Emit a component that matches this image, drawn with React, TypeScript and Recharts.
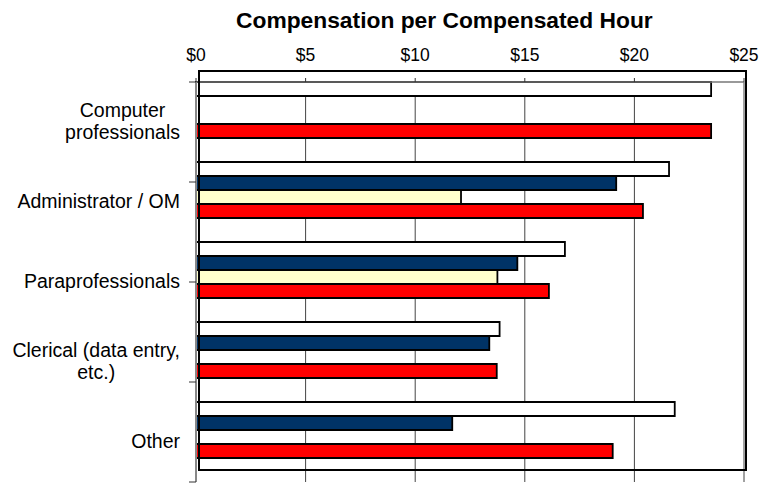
import React from 'react';
import { BarChart, Bar, XAxis, YAxis, CartesianGrid } from 'recharts';

const categories = ['Computer professionals', 'Administrator / OM', 'Paraprofessionals', 'Clerical (data entry, etc.)', 'Other'];
const categoryLines: string[][] = [
  ['Computer', 'professionals'],
  ['Administrator / OM'],
  ['Paraprofessionals'],
  ['Clerical (data entry,', 'etc.)'],
  ['Other'],
];
const seriesWhite = [23.5, 21.58, 16.83, 13.85, 21.84];
const seriesNavy: (number | null)[] = [null, 19.17, 14.66, 13.38, 11.69];
const seriesYellow: (number | null)[] = [null, 12.09, 13.75, null, null];
const seriesRed = [23.5, 20.39, 16.1, 13.72, 19.01];
const xTicks = [0, 5, 10, 15, 20, 25];
const bandBoundaryTicks = [0, 1, 2, 3, 4, 5];
const title = 'Compensation per Compensated Hour';

const FONT = '"Liberation Sans", Arial, sans-serif';
const LABEL_SIZE = 19.5;

const data = categories.map((name, i) => ({
  name,
  white: seriesWhite[i],
  navy: seriesNavy[i],
  yellow: seriesYellow[i],
  red: seriesRed[i],
}));

let ctx: CanvasRenderingContext2D | null = null;
function measure(t: string): number {
  if (!ctx) {
    const c = document.createElement('canvas');
    ctx = c.getContext('2d');
  }
  if (!ctx) return t.length * LABEL_SIZE * 0.5;
  ctx.font = `${LABEL_SIZE}px "Liberation Sans"`;
  return ctx.measureText(t).width;
}

const CategoryTick = (props: any) => {
  const { x, y, payload } = props;
  const idx = categories.indexOf(payload.value);
  const lines = idx >= 0 ? categoryLines[idx] : [String(payload.value)];
  const maxW = Math.max(...lines.map(measure));
  const cx = x - maxW / 2;
  const n = lines.length;
  return (
    <g>
      {lines.map((ln, i) => (
        <text
          key={i}
          x={cx}
          y={y + 6.3 + (i - (n - 1) / 2) * 22}
          textAnchor="middle"
          fontSize={LABEL_SIZE}
          fontFamily={FONT}
          fill="#000"
        >
          {ln}
        </text>
      ))}
    </g>
  );
};

const EmptyTick = () => <g />;

export default function App() {
  return (
    <div style={{ position: 'absolute', left: 0, top: 0, width: 761, height: 483, overflow: 'hidden', background: '#fff', fontFamily: FONT }}>
      <div
        style={{
          position: 'absolute',
          left: 236,
          width: 400,
          top: 9,
          textAlign: 'center',
          fontSize: 22.8,
          lineHeight: '22px',
          fontWeight: 'bold',
          whiteSpace: 'nowrap',
          color: '#000',
        }}
      >
        {title}
      </div>
      <BarChart
        width={761}
        height={490}
        data={data}
        layout="vertical"
        margin={{ top: 42, right: 17, bottom: 8, left: 0 }}
        barCategoryGap={0}
        barGap={0}
      >
        <CartesianGrid horizontal={false} vertical={true} stroke="#444" strokeWidth={1} />
        <XAxis
          type="number"
          orientation="top"
          domain={[0, 25]}
          ticks={xTicks}
          tickFormatter={(v: number) => `$${v}`}
          height={40}
          tickSize={4}
          tickMargin={17}
          axisLine={{ stroke: '#777', strokeWidth: 1.5 }}
          tickLine={{ stroke: '#333' }}
          tick={{ fontSize: 17.5, fill: '#000', fontFamily: FONT }}
          interval={0}
        />
        <YAxis
          yAxisId="bounds"
          type="number"
          domain={[0, 5]}
          ticks={bandBoundaryTicks}
          width={7}
          tickSize={7}
          tick={<EmptyTick />}
          axisLine={{ stroke: '#888', strokeWidth: 2 }}
          tickLine={{ stroke: '#333', strokeWidth: 1 }}
          interval={0}
          allowDataOverflow
        />
        <YAxis
          yAxisId="cat"
          type="category"
          dataKey="name"
          width={189}
          tickSize={0}
          tickMargin={9}
          axisLine={false}
          tickLine={false}
          tick={<CategoryTick />}
          interval={0}
        />
        <Bar yAxisId="cat" dataKey="white" fill="#FFFFFF" stroke="#000" strokeWidth={1.8} barSize={14} isAnimationActive={false} />
        <Bar yAxisId="cat" dataKey="navy" fill="#003366" stroke="#000" strokeWidth={1.8} barSize={14} isAnimationActive={false} />
        <Bar yAxisId="cat" dataKey="yellow" fill="#FFFFCC" stroke="#000" strokeWidth={1.8} barSize={14} isAnimationActive={false} />
        <Bar yAxisId="cat" dataKey="red" fill="#FF0000" stroke="#000" strokeWidth={1.8} barSize={14} isAnimationActive={false} />
        <Bar yAxisId="cat" dataKey="spacer" fill="none" barSize={23.9} isAnimationActive={false} />
      </BarChart>
      <div
        style={{
          position: 'absolute',
          left: 198,
          top: 70,
          width: 549,
          height: 401,
          border: '2px solid #000',
          boxSizing: 'border-box',
          pointerEvents: 'none',
        }}
      />
    </div>
  );
}
